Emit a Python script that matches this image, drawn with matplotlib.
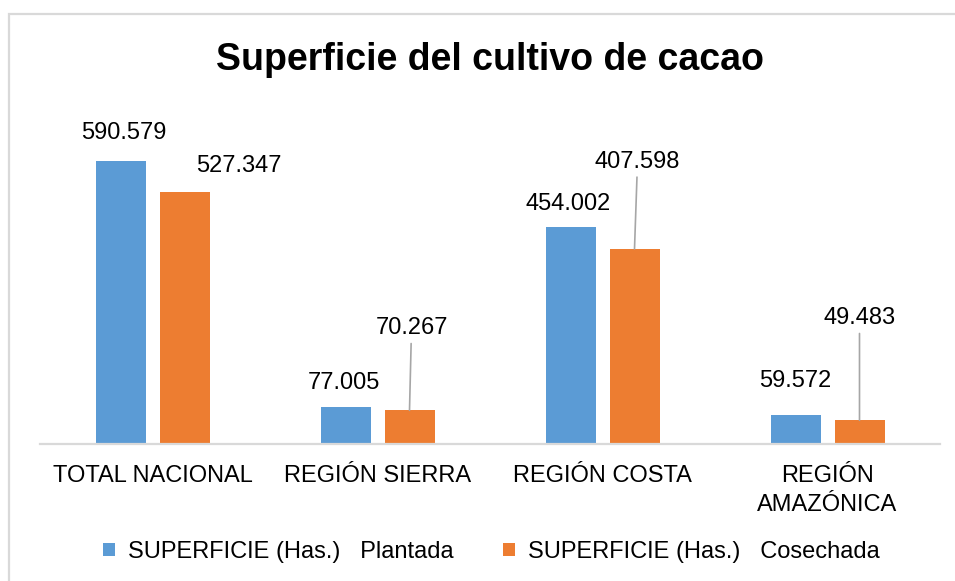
import matplotlib
matplotlib.use("Agg")
import matplotlib.pyplot as plt
from matplotlib.patches import Rectangle
import numpy as np

plt.rcParams['font.family'] = ['Liberation Sans', 'DejaVu Sans']

title = "Superficie del cultivo de cacao"
categories = ["TOTAL NACIONAL", "REGIÓN SIERRA", "REGIÓN COSTA", "REGIÓN\nAMAZÓNICA"]
series_names = ["SUPERFICIE (Has.)   Plantada", "SUPERFICIE (Has.)   Cosechada"]
plantada = [590.579, 77.005, 454.002, 59.572]
cosechada = [527.347, 70.267, 407.598, 49.483]

# label offsets in pixels (style only)
off_plant = [(3, 28), (-2, 24), (-2, 23), (0, 34)]
off_cose = [(54, 26), (2, 82), (3, 87), (0, 102)]
leader_cose = [False, True, True, True]

blue = "#5B9BD5"
orange = "#ED7D31"

fig = plt.figure(figsize=(9.55, 5.81), dpi=100)
ax = fig.add_axes([40/955, 1-444/581, 900/955, 335/581])

x = np.arange(len(categories))
w = 50/225
d = 32/225
bp = ax.bar(x - d, plantada, w, color=blue, label=series_names[0])
bc = ax.bar(x + d, cosechada, w, color=orange, label=series_names[1])

ax.set_xlim(-0.5, len(categories) - 0.5)
ax.set_ylim(0, 700)
ax.set_yticks([])
for s in ['top', 'right', 'left']:
    ax.spines[s].set_visible(False)
ax.spines['bottom'].set_color('#d9d9d9')
ax.spines['bottom'].set_linewidth(1.6)
ax.set_xticks(x)
ax.set_xticklabels(categories, fontsize=17, multialignment='center', linespacing=1.4)
ax.tick_params(axis='x', length=0, pad=15)

def fmt(v):
    return f"{v:.3f}"

for i, v in enumerate(plantada):
    ax.annotate(fmt(v), xy=(x[i] - d, v), xytext=off_plant[i], textcoords='offset pixels',
                ha='center', va='center', fontsize=17)
for i, v in enumerate(cosechada):
    kw = {}
    if leader_cose[i]:
        kw['arrowprops'] = dict(arrowstyle='-', color='#a6a6a6', lw=1.2, shrinkA=1, shrinkB=0)
    ax.annotate(fmt(v), xy=(x[i] + d, v), xytext=off_cose[i], textcoords='offset pixels',
                ha='center', va='center', fontsize=17, **kw)

fig.text(490/955, 1-70/581, title, ha='center', va='baseline', fontsize=27, fontweight='bold')

leg = fig.legend(handles=[bp, bc], labels=series_names, loc='center',
                 bbox_to_anchor=(491/955, 1-552/581), ncol=2, frameon=False, fontsize=17,
                 handlelength=0.5, handleheight=0.5, handletextpad=0.55, columnspacing=2.1)

fig.patches.append(Rectangle((9/955, -0.05), 1.2, 1.05 - 13.5/581, transform=fig.transFigure,
                             fill=False, edgecolor='#d9d9d9', linewidth=1.6))

fig.savefig("out.png", dpi=100)
